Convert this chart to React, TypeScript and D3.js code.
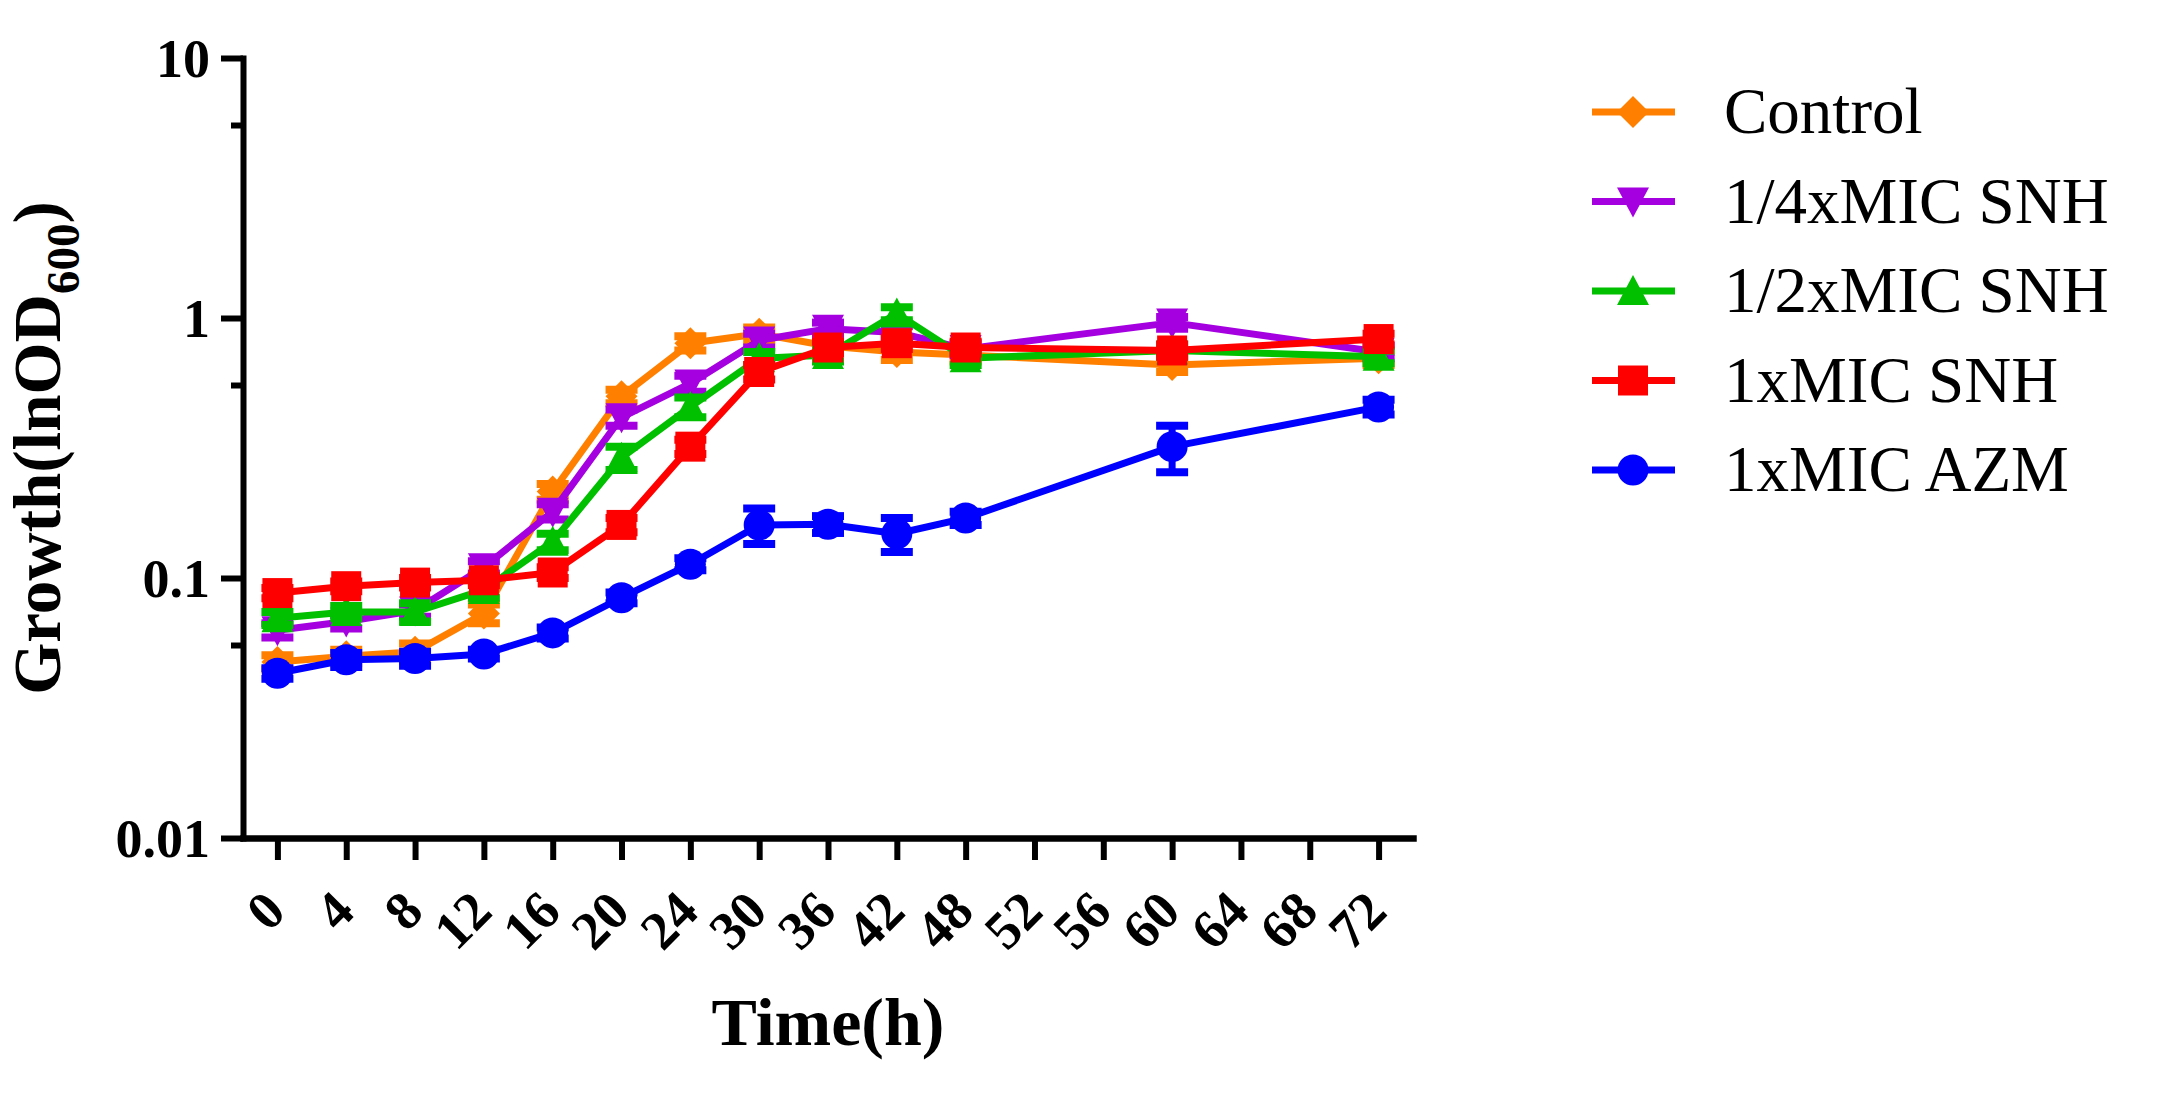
import React, { useRef, useEffect } from 'react';
import * as d3 from 'd3';

// x axis categories (hours) and the times that were sampled
const timeLabels = ['0', '4', '8', '12', '16', '20', '24', '30', '36', '42', '48', '52', '56', '60', '64', '68', '72'];
const sampleTimes = ['0', '4', '8', '12', '16', '20', '24', '30', '36', '42', '48', '60', '72'];

const yMajorTicks = [0.01, 0.1, 1, 10];
const yMinorTicks = [0.055, 0.55, 5.5];

// mean OD values per group
const controlValues = [0.0475, 0.050, 0.052, 0.073, 0.215, 0.50, 0.80, 0.87, 0.78, 0.74, 0.72, 0.66, 0.70];
const quarterValues = [0.063, 0.068, 0.075, 0.110, 0.180, 0.415, 0.56, 0.82, 0.91, 0.88, 0.76, 0.96, 0.74];
const halfValues = [0.070, 0.074, 0.074, 0.090, 0.138, 0.29, 0.455, 0.70, 0.72, 1.04, 0.70, 0.75, 0.71];
const fullValues = [0.0875, 0.093, 0.096, 0.098, 0.105, 0.16, 0.32, 0.62, 0.77, 0.80, 0.77, 0.75, 0.83];
const azmValues = [0.043, 0.0485, 0.049, 0.051, 0.0615, 0.084, 0.113, 0.160, 0.161, 0.148, 0.170, 0.320, 0.455];

// SD per point
const controlErrors = [0.003, 0.003, 0.004, 0.006, 0.015, 0.03, 0.05, 0.05, 0.05, 0.05, 0.04, 0.04, 0.04];
const quarterErrors = [0.004, 0.004, 0.004, 0.006, 0.012, 0.03, 0.04, 0.05, 0.05, 0.05, 0.04, 0.05, 0.04];
const halfErrors = [0.004, 0.004, 0.006, 0.006, 0.010, 0.03, 0.04, 0.04, 0.04, 0.06, 0.04, 0.04, 0.04];
const fullErrors = [0.004, 0.004, 0.004, 0.004, 0.005, 0.01, 0.02, 0.04, 0.04, 0.04, 0.04, 0.04, 0.04];
const azmErrors = [0.002, 0.003, 0.003, 0.002, 0.003, 0.004, 0.006, 0.025, 0.012, 0.022, 0.010, 0.065, 0.030];

const seriesNames = ['Control', '1/4xMIC SNH', '1/2xMIC SNH', '1xMIC SNH', '1xMIC AZM'];
const seriesColors = ['#FF8000', '#A400E0', '#00C000', '#FF0000', '#0000FF'];
const seriesMarkers = ['diamond', 'down', 'up', 'square', 'circle'];
const seriesValues = [controlValues, quarterValues, halfValues, fullValues, azmValues];
const seriesErrors = [controlErrors, quarterErrors, halfErrors, fullErrors, azmErrors];

const WIDTH = 2165;
const HEIGHT = 1114;
const FONT = '"Liberation Serif", "Times New Roman", serif';

const markerPath = (kind: string): string => {
    const r = 16;
    switch (kind) {
        case 'diamond':
            return `M0,${-r}L${r},0L0,${r}L${-r},0Z`;
        case 'down':
            return `M${-r},${-r + 2}L${r},${-r + 2}L0,${r}Z`;
        case 'up':
            return `M${-r},${r - 2}L${r},${r - 2}L0,${-r}Z`;
        case 'square':
            return `M-15,-15H15V15H-15Z`;
        default:
            return d3.symbol().type(d3.symbolCircle).size(Math.PI * 15.5 * 15.5)()!;
    }
};

const createChart = (svg: d3.Selection<SVGSVGElement, unknown, null, undefined>): void => {
    svg.selectAll('*').remove();

    const left = 243, right = 1413, top = 58, bottom = 838;

    const x = d3.scalePoint<string>()
        .domain(timeLabels)
        .range([left, right])
        .padding(0.5);

    const y = d3.scaleLog()
        .domain([0.01, 10])
        .range([bottom, top]);

    // series
    seriesValues.forEach((vals, si) => {
        const color = seriesColors[si];
        const pts = vals.map((v, i) => ({ t: sampleTimes[i], v, e: seriesErrors[si][i] }));
        const g = svg.append('g');

        g.append('path')
            .datum(pts)
            .attr('fill', 'none')
            .attr('stroke', color)
            .attr('stroke-width', 7)
            .attr('stroke-linejoin', 'round')
            .attr('d', d3.line<{ t: string; v: number }>()
                .x(d => x(d.t)!)
                .y(d => y(d.v)));

        // error bars
        const eb = g.selectAll('.err').data(pts).enter().append('g')
            .attr('transform', d => `translate(${x(d.t)},0)`);
        eb.append('line')
            .attr('y1', d => y(d.v + d.e))
            .attr('y2', d => y(d.v - d.e))
            .attr('stroke', color)
            .attr('stroke-width', 7);
        eb.append('line')
            .attr('x1', -16).attr('x2', 16)
            .attr('y1', d => y(d.v + d.e)).attr('y2', d => y(d.v + d.e))
            .attr('stroke', color).attr('stroke-width', 8);
        eb.append('line')
            .attr('x1', -16).attr('x2', 16)
            .attr('y1', d => y(d.v - d.e)).attr('y2', d => y(d.v - d.e))
            .attr('stroke', color).attr('stroke-width', 8);

        g.selectAll('.mk').data(pts).enter().append('path')
            .attr('d', markerPath(seriesMarkers[si]))
            .attr('fill', color)
            .attr('transform', d => `translate(${x(d.t)},${y(d.v)})`);
    });

    // y axis
    const yAxis = svg.append('g')
        .attr('transform', `translate(${left},0)`)
        .call(d3.axisLeft(y)
            .tickValues(yMajorTicks)
            .tickFormat(d => String(d))
            .tickSize(22)
            .tickSizeOuter(0)
            .tickPadding(11));
    yAxis.select('.domain').attr('stroke-width', 6).attr('stroke-linecap', 'square');
    yAxis.selectAll('.tick line').attr('stroke-width', 6);
    yAxis.selectAll('.tick text')
        .attr('font-family', FONT)
        .attr('font-weight', 'bold')
        .attr('font-size', 54)
        .attr('dy', '0.34em');

    yAxis.selectAll('.minor').data(yMinorTicks).enter().append('line')
        .attr('x1', -12).attr('x2', 0)
        .attr('y1', d => y(d)).attr('y2', d => y(d))
        .attr('stroke', '#000').attr('stroke-width', 6);

    // x axis
    const xAxis = svg.append('g')
        .attr('transform', `translate(0,${bottom})`)
        .call(d3.axisBottom(x).tickSize(22).tickSizeOuter(0));
    xAxis.select('.domain').attr('stroke-width', 6.5).attr('stroke-linecap', 'square');
    xAxis.selectAll('.tick line').attr('stroke-width', 6);
    xAxis.selectAll('.tick text')
        .attr('font-family', FONT)
        .attr('font-weight', 'bold')
        .attr('font-size', 54)
        .attr('y', null)
        .attr('dy', null)
        .attr('text-anchor', 'end')
        .attr('transform', 'translate(10,76) rotate(-45)');

    // axis titles
    svg.append('text')
        .attr('x', (left + right) / 2)
        .attr('y', 1045)
        .attr('text-anchor', 'middle')
        .attr('font-family', FONT)
        .attr('font-weight', 'bold')
        .attr('font-size', 68)
        .text('Time(h)');

    const yTitle = svg.append('text')
        .attr('transform', `translate(60,${(top + bottom) / 2}) rotate(-90)`)
        .attr('text-anchor', 'middle')
        .attr('font-family', FONT)
        .attr('font-weight', 'bold')
        .attr('font-size', 67);
    yTitle.append('tspan').text('Growth(lnOD');
    yTitle.append('tspan').attr('dy', 19).attr('font-size', 47).text('600');
    yTitle.append('tspan').attr('dy', -19).text(')');

    // legend
    const legend = svg.append('g');
    seriesNames.forEach((name, i) => {
        const ly = 112 + i * 89.5;
        const row = legend.append('g').attr('transform', `translate(0,${ly})`);
        row.append('line')
            .attr('x1', 1592).attr('x2', 1675)
            .attr('stroke', seriesColors[i])
            .attr('stroke-width', 7);
        row.append('path')
            .attr('d', markerPath(seriesMarkers[i]))
            .attr('fill', seriesColors[i])
            .attr('transform', 'translate(1633,0)');
        row.append('text')
            .attr('x', 1724)
            .attr('dy', '0.33em')
            .attr('font-family', FONT)
            .attr('font-size', 65)
            .text(name);
    });
};

const App: React.FC = () => {
    const ref = useRef<SVGSVGElement>(null);

    useEffect(() => {
        if (ref.current) {
            createChart(d3.select(ref.current));
        }
    }, []);

    return (
        <svg
            ref={ref}
            width={WIDTH}
            height={HEIGHT}
            style={{ position: 'absolute', left: 0, top: 0, background: '#fff' }}
        />
    );
};

export default App;
